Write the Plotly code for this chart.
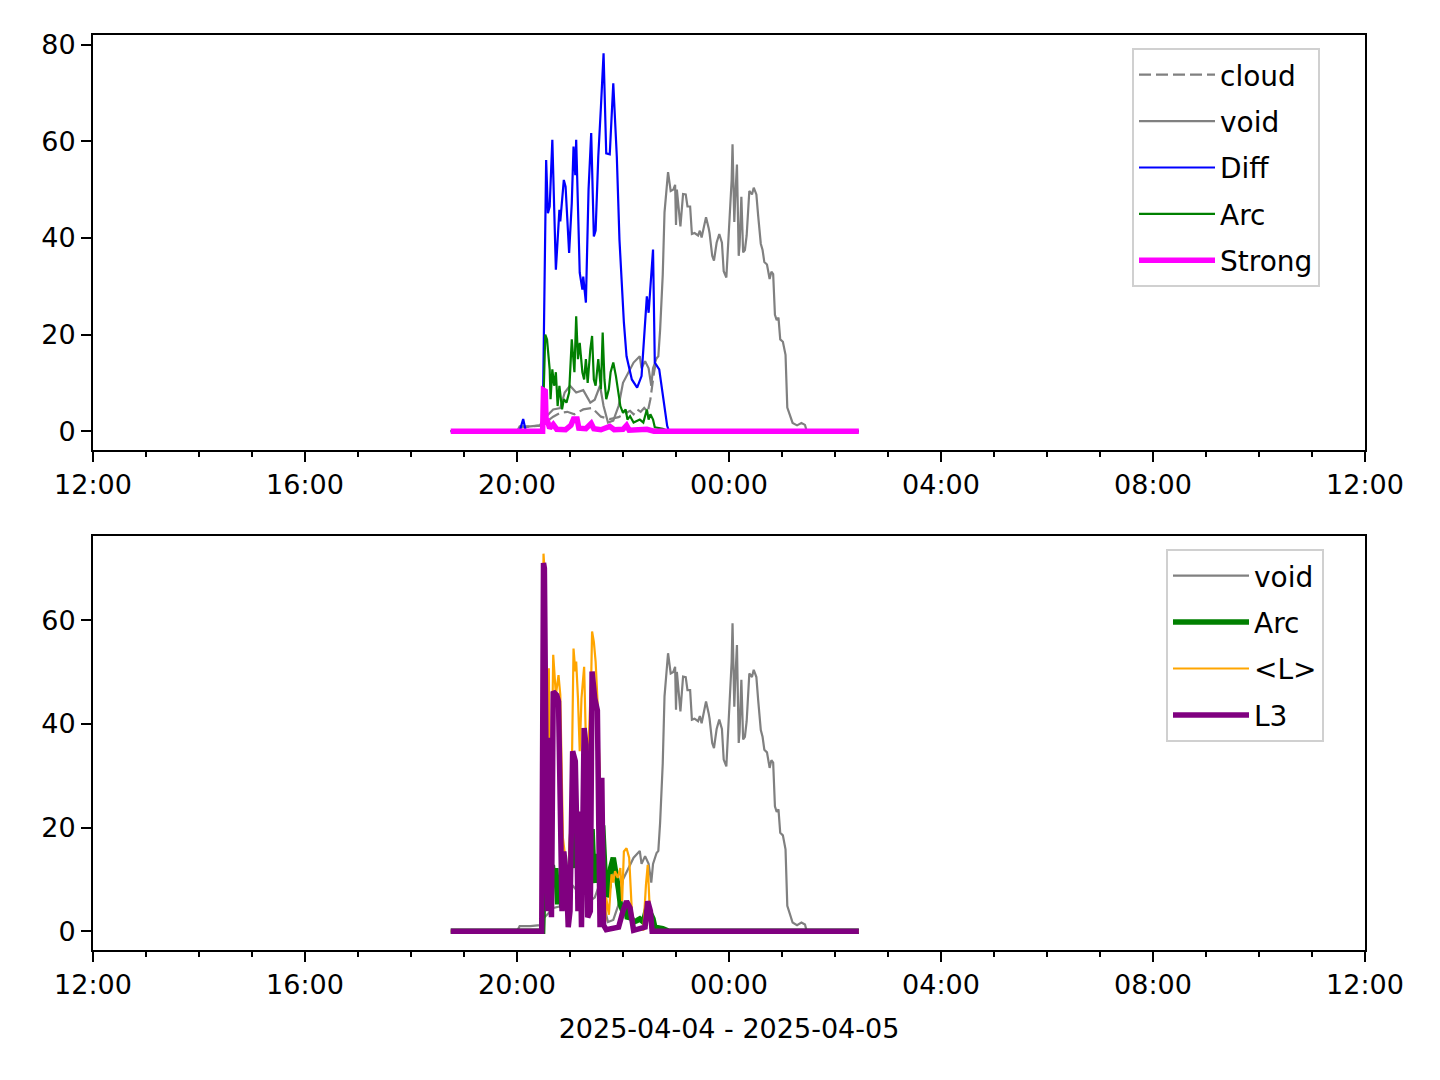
import pandas as pd
import plotly.graph_objects as go
from plotly.subplots import make_subplots

# ---------------- data ----------------
void_t = ["18:45", "20:00", "20:03", "20:15", "20:26", "20:30", "20:34", "20:41", "20:49", "20:54",
          "21:00", "21:07", "21:15", "21:23", "21:28", "21:34", "21:38", "21:43", "21:49", "21:55",
          "22:00", "22:06", "22:12", "22:19", "22:21", "22:25", "22:29", "22:32", "22:34", "22:38",
          "22:40", "22:42", "22:45", "22:47", "22:51", "22:54", "22:57", "22:59", "23:00", "23:01",
          "23:04", "23:05", "23:08", "23:11", "23:13", "23:16", "23:18", "23:21", "23:25", "23:27",
          "23:29", "23:31", "23:34", "23:37", "23:38", "23:41", "23:43", "23:46", "23:49", "23:52",
          "23:54", "23:57", "23:59", "00:01", "00:03", "00:04", "00:06", "00:07", "00:09", "00:11",
          "00:12", "00:14", "00:16", "00:18", "00:20", "00:23", "00:26", "00:28", "00:31", "00:33",
          "00:36", "00:38", "00:40", "00:43", "00:46", "00:48", "00:50", "00:52", "00:54", "00:56",
          "00:58", "01:01", "01:04", "01:06", "01:09", "01:12", "01:17", "01:22", "01:26", "01:28",
          "02:27"]
void_v = [0, 0, 1.0, 1.0, 1.2, 2.5, 3.2, 4.5, 4.8, 8.0,
          9.4, 8.0, 8.5, 5.9, 6.5, 9.4, 5.2, 1.8, 2.2, 5.2,
          10.0, 12.1, 14.2, 15.5, 13.0, 14.5, 13.0, 9.4, 13.0, 15.1,
          15.5, 20.9, 32.4, 45.3, 53.6, 49.7, 50.0, 51.0, 42.7, 50.0,
          44.0, 42.4, 49.1, 49.0, 46.5, 46.5, 40.8, 41.0, 40.5, 41.5,
          40.1, 42.0, 44.3, 42.0, 41.0, 36.3, 35.3, 39.0, 40.8, 39.0,
          33.1, 31.8, 38.0, 43.3, 52.0, 59.4, 43.3, 48.0, 55.2, 36.3,
          38.5, 48.5, 37.0, 37.5, 40.5, 49.7, 49.0, 50.4, 49.0, 44.6,
          38.8, 37.5, 35.0, 34.5, 31.5, 33.0, 32.5, 24.1, 23.0, 23.5,
          19.0, 18.5, 15.8, 4.9, 3.5, 1.7, 1.2, 1.7, 1.3, 0,
          0]

cloud_t = ["18:45", "20:00", "20:05", "20:30", "20:34", "20:41", "20:49", "20:57", "21:05", "21:15",
           "21:25", "21:35", "21:45", "21:55", "22:04", "22:08", "22:12", "22:16", "22:20", "22:24",
           "22:28", "22:31", "22:35", "22:38"]
cloud_v = [0, 0, 0.8, 1.2, 2.0, 3.0, 3.8, 4.0, 3.5, 4.5,
           4.8, 3.0, 2.5, 2.9, 3.8, 4.2, 3.5, 4.5, 4.0, 4.8,
           4.0, 6.6, 12.0, 15.1]

diff_t = ["18:45", "20:03", "20:07", "20:10", "20:29", "20:33", "20:35", "20:37", "20:40", "20:44",
          "20:48", "20:49", "20:53", "20:55", "20:59", "21:02", "21:04", "21:06", "21:07", "21:11",
          "21:14", "21:15", "21:18", "21:21", "21:24", "21:27", "21:29", "21:32", "21:35", "21:38",
          "21:41", "21:45", "21:49", "21:53", "21:56", "22:01", "22:04", "22:10", "22:16", "22:21",
          "22:27", "22:29", "22:34", "22:36", "22:41", "22:46", "22:50", "22:52", "02:27"]
diff_v = [0, 0, 2.5, 0, 0, 56.1, 45.1, 46.5, 60.3, 33.4,
          45.8, 43.4, 52.0, 50.6, 36.9, 47.2, 58.9, 53.0, 60.3, 32.8,
          29.3, 32.0, 26.6, 50.0, 61.7, 40.3, 41.5, 56.8, 67.1, 78.2,
          57.5, 57.3, 72.0, 56.8, 39.6, 22.5, 15.5, 10.7, 9.0, 11.4,
          27.9, 24.5, 37.6, 14.2, 12.8, 6.6, 1.1, 0, 0]

arc_t = ["18:45", "20:29", "20:32", "20:34", "20:37", "20:38", "20:40", "20:42", "20:44", "20:46",
         "20:48", "20:51", "20:53", "20:56", "20:59", "21:02", "21:05", "21:07", "21:09", "21:11",
         "21:14", "21:16", "21:18", "21:20", "21:23", "21:25", "21:27", "21:29", "21:32", "21:35",
         "21:37", "21:39", "21:41", "21:44", "21:46", "21:49", "21:52", "21:55", "21:57", "22:00",
         "22:03", "22:05", "22:08", "22:12", "22:16", "22:19", "22:23", "22:27", "22:29", "22:31",
         "22:34", "22:36", "22:45", "22:52", "02:27"]
arc_v = [0, 0, 20.0, 19.0, 12.8, 6.6, 12.8, 9.4, 12.2, 5.2,
         9.4, 4.5, 6.6, 5.9, 8.0, 19.0, 12.2, 23.8, 14.9, 18.3,
         12.2, 10.7, 14.9, 10.0, 16.9, 19.7, 10.7, 9.4, 14.9, 8.7,
         20.4, 10.7, 6.6, 8.7, 12.2, 14.2, 11.4, 8.0, 5.2, 3.8,
         4.5, 2.4, 3.1, 1.8, 2.1, 2.4, 1.8, 4.5, 2.4, 3.5,
         2.4, 0.8, 0.5, 0, 0]

strong_t = ["18:45", "20:29", "20:30", "20:32", "20:33", "20:35", "20:37", "20:41", "20:45", "20:55",
            "21:01", "21:04", "21:08", "21:10", "21:18", "21:24", "21:27", "21:35", "21:45", "21:50",
            "22:00", "22:04", "22:07", "22:27", "22:35", "02:27"]
strong_v = [0, 0, 8.5, 8.3, 1.5, 1.8, 0.6, 1.4, 0.4, 0.3,
            1.2, 2.5, 2.5, 0.6, 0.5, 1.6, 0.5, 0.3, 1.0, 0.3,
            0.4, 1.2, 0.2, 0.4, 0, 0]

meanl_t = ["18:45", "20:28", "20:30", "20:31", "20:34", "20:36", "20:38", "20:41", "20:44", "20:47",
           "20:49", "20:51", "20:52", "20:56", "20:58", "21:02", "21:04", "21:06", "21:07", "21:09",
           "21:11", "21:13", "21:16", "21:19", "21:21", "21:24", "21:25", "21:27", "21:29", "21:31",
           "21:33", "21:35", "21:36", "21:38", "21:40", "21:41", "21:44", "21:47", "21:49", "21:51",
           "21:54", "21:57", "21:59", "22:01", "22:04", "22:07", "22:10", "22:13", "22:23", "22:26",
           "22:28", "22:30", "22:32", "02:27"]
meanl_v = [0, 0, 72.8, 70.0, 23.1, 50.7, 16.7, 53.3, 45.6, 49.4,
           45.6, 23.0, 18.0, 12.2, 7.1, 30.0, 54.5, 50.1, 52.0, 45.0,
           34.7, 44.9, 51.0, 29.6, 36.0, 48.8, 57.8, 55.8, 52.0, 44.9,
           33.4, 23.1, 10.3, 6.5, 1.9, 6.5, 3.2, 11.0, 9.4, 11.6,
           10.3, 12.2, 5.8, 15.4, 16.0, 14.2, 3.9, 0.3, 0.3, 9.0,
           12.8, 5.2, 0, 0]

l3_t = ["18:45", "20:28", "20:30", "20:31", "20:34", "20:35", "20:37", "20:39", "20:41", "20:45",
        "20:47", "20:50", "20:51", "20:53", "20:56", "20:58", "21:00", "21:03", "21:06", "21:08",
        "21:09", "21:11", "21:13", "21:16", "21:18", "21:20", "21:23", "21:25", "21:28", "21:31",
        "21:32", "21:34", "21:36", "21:38", "21:41", "21:55", "22:00", "22:04", "22:08", "22:12",
        "22:25", "22:28", "22:31", "22:33", "02:27"]
l3_v = [0, 0, 71.0, 70.0, 10.4, 3.9, 37.3, 2.7, 46.2, 45.5,
        44.3, 16.7, 3.9, 15.4, 10.4, 0.8, 3.9, 34.7, 32.8, 16.7,
        3.9, 23.1, 0.8, 39.2, 36.0, 2.7, 3.9, 50.1, 44.9, 42.6,
        23.1, 0.8, 29.6, 1.2, 0.3, 0.8, 3.9, 5.8, 4.5, 0.2,
        0.8, 5.8, 3.9, 0, 0]

x_range = ["2025-04-04 12:00", "2025-04-05 12:00"]
x_title = "2025-04-04 - 2025-04-05"


def to_dt(times):
    out = []
    for s in times:
        h = int(s.split(":")[0])
        day = "2025-04-04" if h >= 12 else "2025-04-05"
        out.append(pd.Timestamp(f"{day} {s}"))
    return out


GRAY, BLUE, GREEN, MAGENTA, ORANGE, PURPLE = "#808080", "#0000ff", "#008000", "#ff00ff", "#ffa500", "#800080"
THIN, THICK = 2.2, 5.5
FONT = "DejaVu Sans"

fig = make_subplots(rows=2, cols=1, vertical_spacing=0.08)

top = [
    ("cloud", cloud_t, cloud_v, GRAY, THIN, "12px,5px"),
    ("void", void_t, void_v, GRAY, THIN, "solid"),
    ("Diff", diff_t, diff_v, BLUE, THIN, "solid"),
    ("Arc", arc_t, arc_v, GREEN, THIN, "solid"),
    ("Strong", strong_t, strong_v, MAGENTA, THICK, "solid"),
]
for i, (name, t, v, c, w, d) in enumerate(top):
    fig.add_trace(go.Scatter(x=to_dt(t), y=v, mode="lines", name=name,
                             line=dict(color=c, width=w, dash=d),
                             legend="legend", legendgroup=f"a{i}"), row=1, col=1)

bottom = [
    ("void", void_t, void_v, GRAY, THIN),
    ("Arc", arc_t, arc_v, GREEN, THICK),
    ("<L>", meanl_t, meanl_v, ORANGE, THIN),
    ("L3", l3_t, l3_v, PURPLE, THICK),
]
for i, (name, t, v, c, w) in enumerate(bottom):
    fig.add_trace(go.Scatter(x=to_dt(t), y=v, mode="lines", name=name,
                             line=dict(color=c, width=w),
                             legend="legend2", legendgroup=f"b{i}"), row=2, col=1)

# page body has an 8px margin in the browser; compensate so the
# plot frame lands at the reference pixel positions
OFF = 8
W, H = 1440, 1080
ML, MR, MT, MB = 93 - OFF, 75 + OFF, 35 - OFF, 130 + OFF
PW, PH = W - ML - MR, H - MT - MB


def ydom(top_px, bot_px):
    # pixel positions are screen positions (include the body offset)
    top_px -= OFF
    bot_px -= OFF
    return [(H - MB - bot_px) / PH, (H - MB - top_px) / PH]


def xpos(px):
    return (px - OFF - ML) / PW


def ypos(py):
    return (H - MB - (py - OFF)) / PH


xaxis_common = dict(
    type="date", range=x_range, dtick=4 * 3600 * 1000, tick0="2025-04-04 12:00",
    tickformat="%H:%M", ticks="outside", ticklen=10, tickwidth=2, tickcolor="black",
    showline=True, linecolor="black", linewidth=2, mirror=True,
    showgrid=False, zeroline=False, domain=[0, 1], automargin=False,
    tickfont=dict(family=FONT, size=27, color="black"),
    minor=dict(dtick=3600 * 1000, ticks="outside", ticklen=5, tickwidth=1.6, tickcolor="black", showgrid=False),
)
yaxis_common = dict(
    ticks="outside", ticklen=10, tickwidth=2, tickcolor="black",
    showline=True, linecolor="black", linewidth=2, mirror=True,
    showgrid=False, zeroline=False, automargin=False,
    tickfont=dict(family=FONT, size=27, color="black"),
)
legend_common = dict(
    xanchor="left", yanchor="top",
    bgcolor="rgba(255,255,255,0.8)", bordercolor="#d0d0d0", borderwidth=2,
    font=dict(family=FONT, size=28, color="black"), tracegroupgap=7,
    itemwidth=76,
)
fig.update_layout(
    width=W, height=H, margin=dict(l=ML, r=MR, t=MT, b=MB, autoexpand=False),
    paper_bgcolor="white", plot_bgcolor="white",
    font=dict(family=FONT, size=27, color="black"),
    xaxis=dict(**xaxis_common, anchor="y"),
    xaxis2=dict(**xaxis_common, anchor="y2",
                title=dict(text=x_title, font=dict(family=FONT, size=27, color="black"), standoff=20)),
    yaxis=dict(**yaxis_common, range=[-3.9, 82.0], tickvals=[0, 20, 40, 60, 80],
               domain=ydom(35, 450), anchor="x"),
    yaxis2=dict(**yaxis_common, range=[-3.6, 76.2], tickvals=[0, 20, 40, 60],
                domain=ydom(536, 950), anchor="x2"),
    legend=dict(**legend_common, x=xpos(1132), y=ypos(48)),
    legend2=dict(**legend_common, x=xpos(1166), y=ypos(549)),
    showlegend=True,
)

fig.write_html("out.html")
